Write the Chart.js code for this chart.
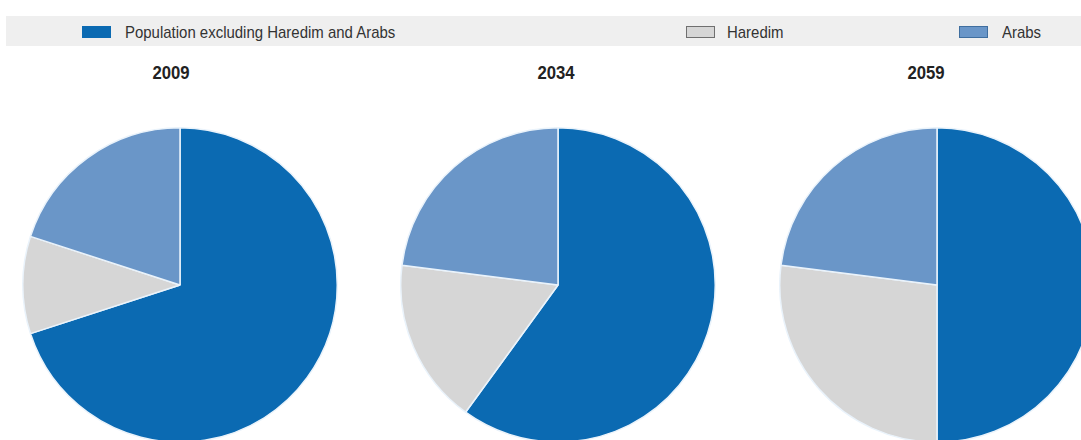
<!DOCTYPE html>
<html>
<head>
<meta charset="utf-8">
<script src="https://cdn.jsdelivr.net/npm/chart.js@4.4.0/dist/chart.umd.min.js"></script>
<style>
  html, body { margin:0; padding:0; background:#fff; }
  body { width:1081px; height:440px; overflow:hidden; position:relative; font-family:"Liberation Sans", Arial, sans-serif; }
  .legend-bar { position:absolute; left:6px; right:0; top:16px; height:30px; background:#efefef; }
  .box { position:absolute; top:26px; width:27px; height:10px; }
  .lbl { position:absolute; top:23px; font-size:17px; color:#333; white-space:nowrap; transform:scaleX(0.88); transform-origin:0 0; }
  .year { position:absolute; top:62px; font-size:19px; font-weight:bold; color:#222; transform:translateX(-50%) scaleX(0.88); }
  .pie { position:absolute; }
</style>
</head>
<body>
<div class="legend-bar"></div>
<div id="legend"></div>
<div id="charts"></div>

<script>
const categories = ['Population excluding Haredim and Arabs', 'Haredim', 'Arabs'];
const years = ['2009', '2034', '2059'];
const share2009 = [70, 10, 20];
const share2034 = [60, 17, 23];
const share2059 = [50, 27, 23];

const colors = ['#0b6ab2', '#d6d6d6', '#6a96c8'];
const legendBorders = ['#0b6ab2', '#6f6f6f', '#3f6e9f'];

// legend, spread across the grey band
const boxX = [82, 686, 959];
const textX = [125, 727, 1002];
const legendEl = document.getElementById('legend');
categories.forEach((c, i) => {
  const b = document.createElement('div');
  b.className = 'box';
  b.style.left = boxX[i] + 'px';
  b.style.background = colors[i];
  b.style.border = '1px solid ' + legendBorders[i];
  legendEl.appendChild(b);
  const t = document.createElement('div');
  t.className = 'lbl';
  t.style.left = textX[i] + 'px';
  t.textContent = c;
  legendEl.appendChild(t);
});

const series = [share2009, share2034, share2059];
const centersX = [180, 558, 937];
const titleX = [171, 556, 926];
const cy = 285, r = 157;

const wrap = document.getElementById('charts');
series.forEach((vals, i) => {
  const t = document.createElement('div');
  t.className = 'year';
  t.style.left = titleX[i] + 'px';
  t.textContent = years[i];
  wrap.appendChild(t);

  const box = document.createElement('div');
  box.className = 'pie';
  box.style.left = (centersX[i] - r - 1) + 'px';
  box.style.top = (cy - r - 1) + 'px';
  box.style.width = (2 * r + 2) + 'px';
  box.style.height = (2 * r + 2) + 'px';
  const cv = document.createElement('canvas');
  box.appendChild(cv);
  wrap.appendChild(box);

  new Chart(cv.getContext('2d'), {
    type: 'pie',
    data: {
      labels: categories,
      datasets: [{
        data: vals,
        backgroundColor: colors,
        borderColor: '#eaf3fb',
        borderWidth: 1.5
      }]
    },
    options: {
      responsive: true,
      maintainAspectRatio: false,
      animation: false,
      layout: { padding: 0 },
      plugins: { legend: { display: false }, title: { display: false }, tooltip: { enabled: false } }
    }
  });
});
</script>
</body>
</html>
